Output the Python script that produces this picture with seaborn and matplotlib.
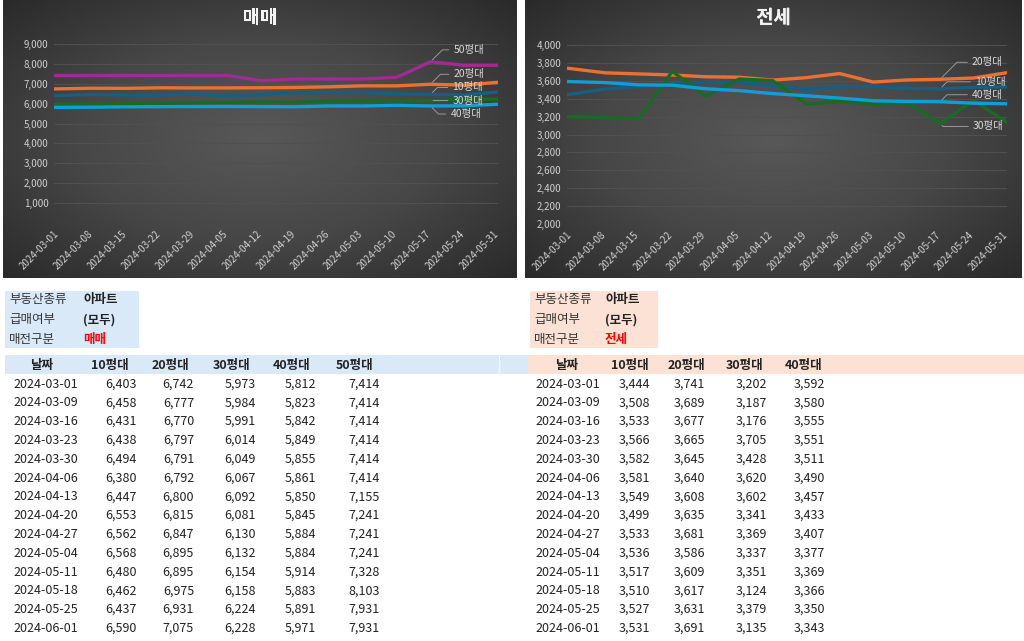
import numpy as np
import pandas as pd
import matplotlib
matplotlib.use('Agg')
import matplotlib.pyplot as plt
import matplotlib.patheffects as pe
from matplotlib.colors import LinearSegmentedColormap
from matplotlib.patches import Rectangle
from matplotlib.ticker import FuncFormatter, MultipleLocator
import seaborn as sns

dates = ['2024-03-01', '2024-03-09', '2024-03-16', '2024-03-23', '2024-03-30',
         '2024-04-06', '2024-04-13', '2024-04-20', '2024-04-27', '2024-05-04',
         '2024-05-11', '2024-05-18', '2024-05-25', '2024-06-01']

sale_10 = [6403, 6458, 6431, 6438, 6494, 6380, 6447, 6553, 6562, 6568, 6480, 6462, 6437, 6590]
sale_20 = [6742, 6777, 6770, 6797, 6791, 6792, 6800, 6815, 6847, 6895, 6895, 6975, 6931, 7075]
sale_30 = [5973, 5984, 5991, 6014, 6049, 6067, 6092, 6081, 6130, 6132, 6154, 6158, 6224, 6228]
sale_40 = [5812, 5823, 5842, 5849, 5855, 5861, 5850, 5845, 5884, 5884, 5914, 5883, 5891, 5971]
sale_50 = [7414, 7414, 7414, 7414, 7414, 7414, 7155, 7241, 7241, 7241, 7328, 8103, 7931, 7931]

jeonse_10 = [3444, 3508, 3533, 3566, 3582, 3581, 3549, 3499, 3533, 3536, 3517, 3510, 3527, 3531]
jeonse_20 = [3741, 3689, 3677, 3665, 3645, 3640, 3608, 3635, 3681, 3586, 3609, 3617, 3631, 3691]
jeonse_30 = [3202, 3187, 3176, 3705, 3428, 3620, 3602, 3341, 3369, 3337, 3351, 3124, 3379, 3135]
jeonse_40 = [3592, 3580, 3555, 3551, 3511, 3490, 3457, 3433, 3407, 3377, 3369, 3366, 3350, 3343]

sale_names = ['10평대', '20평대', '30평대', '40평대', '50평대']
jeonse_names = ['10평대', '20평대', '30평대', '40평대']

colors = {'10평대': '#156082', '20평대': '#E97132', '30평대': '#196B24',
          '40평대': '#0F9ED5', '50평대': '#A02B93'}

sale = pd.DataFrame(dict(zip(sale_names, [sale_10, sale_20, sale_30, sale_40, sale_50])))
sale['날짜'] = pd.to_datetime(dates)
jeonse = pd.DataFrame(dict(zip(jeonse_names, [jeonse_10, jeonse_20, jeonse_30, jeonse_40])))
jeonse['날짜'] = pd.to_datetime(dates)

sns.set_theme(style='white')
plt.rcParams['font.family'] = ['Noto Sans CJK KR', 'DejaVu Sans']

W, H = 1024, 641
fig = plt.figure(figsize=(W / 100, H / 100), dpi=100)


def px_rect(x0, y0, x1, y1):
    return [x0 / W, 1 - y1 / H, (x1 - x0) / W, (y1 - y0) / H]


# table layer underneath everything
tab = fig.add_axes([0, 0, 1, 1])
tab.set_xlim(0, W)
tab.set_ylim(H, 0)
tab.set_axis_off()

# radial background for the dark chart panels
yy, xx = np.mgrid[-1:1:300j, -1:1:500j]
rad = np.sqrt(xx ** 2 + yy ** 2) / np.sqrt(2)
bg_cmap = LinearSegmentedColormap.from_list('bg', ['#585858', '#474747', '#2a2a2a'])


def draw_chart(panel, plot, title, df, names, ylim, ystep, labels, blank_zero):
    bg = fig.add_axes(px_rect(*panel))
    bg.imshow(rad, cmap=bg_cmap, aspect='auto', extent=[0, 1, 0, 1])
    bg.set_axis_off()

    ax = fig.add_axes(px_rect(*plot))
    ax.patch.set_alpha(0)
    long = df.melt(id_vars='날짜', var_name='구분', value_name='값')
    sns.lineplot(data=long, x='날짜', y='값', hue='구분', hue_order=names,
                 palette=colors, linewidth=2.4, legend=False, ax=ax)
    ax.set_xlim(pd.Timestamp('2024-03-01'), pd.Timestamp('2024-06-01'))
    ax.set_ylim(*ylim)
    ax.yaxis.set_major_locator(MultipleLocator(ystep))
    ax.yaxis.set_major_formatter(FuncFormatter(
        lambda v, p: '' if (blank_zero and v == 0) else f'{v:,.0f}'))
    ticks = pd.date_range('2024-03-01', '2024-05-31', freq='7D')
    ax.set_xticks(ticks)
    ax.set_xticklabels([t.strftime('%Y-%m-%d') for t in ticks], rotation=45,
                       ha='right', rotation_mode='anchor')
    ax.tick_params(colors='#d0d0d0', labelsize=7, length=0, pad=4)
    ax.grid(axis='y', color='#505050', lw=0.8)
    ax.grid(axis='x', visible=False)
    for s in ax.spines.values():
        s.set_visible(False)
    ax.set_xlabel('')
    ax.set_ylabel('')

    x_at = pd.Timestamp('2024-05-18')
    for name, (dx, dy) in labels.items():
        val = df.loc[df['날짜'] == x_at, name].iloc[0]
        if dy == 0:
            cs = 'arc3'
        else:
            cs = 'angle,angleA=0,angleB=%d' % (45 if dy > 0 else -45)
        ax.annotate(name, xy=(x_at, val), xytext=(dx, dy), textcoords='offset pixels',
                    ha='left', va='center', fontsize=7.5, color='#d9d9d9',
                    arrowprops=dict(arrowstyle='-', color='#a6a6a6', lw=0.6,
                                    shrinkA=1, shrinkB=2, relpos=(0, 0.5),
                                    connectionstyle=cs))

    cx = (panel[0] + panel[2]) / 2
    fig.text(cx / W, 1 - 18 / H, title, ha='center', va='center', fontsize=13.5,
             fontweight='bold', color='#f2f2f2',
             path_effects=[pe.withSimplePatchShadow(offset=(1, -1), alpha=0.7),
                           pe.Normal()])


draw_chart((3, 0, 517, 278), (54, 44, 498, 223), '매매', sale, sale_names,
           (0, 9000), 1000,
           {'50평대': (23, 12), '20평대': (23, 10), '10평대': (22, 7),
            '30평대': (22, 0), '40평대': (20, -8)}, True)
draw_chart((525, 0, 1022, 278), (567, 45, 1007, 224), '전세', jeonse, jeonse_names,
           (2000, 4000), 200,
           {'20평대': (32, 17), '10평대': (35, 7), '40평대': (32, 7),
            '30평대': (33, -3)}, False)

# ---- tables ----
blue = '#dae9f8'
peach = '#fbe2d5'
txt = '#222222'
fs = 9

tab.add_patch(Rectangle((5, 291), 134, 57, color=blue, lw=0))
tab.add_patch(Rectangle((5, 355), 523, 19, color=blue, lw=0))
tab.plot([499, 499], [355, 374], color='white', lw=0.8)
tab.add_patch(Rectangle((530, 291), 128, 57, color=peach, lw=0))
tab.add_patch(Rectangle((528, 355), 496, 19, color=peach, lw=0))

info_keys = ['부동산종류', '급매여부', '매전구분']
info_y = [300, 320, 339]
for (x_lab, x_val, kind) in [(9, 83, '매매'), (534, 605, '전세')]:
    vals = ['아파트', '(모두)', kind]
    for k, v, y in zip(info_keys, vals, info_y):
        tab.text(x_lab, y, k, ha='left', va='center', fontsize=fs, color='#333333')
        tab.text(x_val, y, v, ha='left', va='center', fontsize=fs, fontweight='bold',
                 color='#ff0000' if v == kind else txt)

head_y = 365
row_y0, row_step = 384, 18.8


def draw_table(x_date_head, x_date, head_x, right_x, names, cols):
    tab.text(x_date_head, head_y, '날짜', ha='center', va='center', fontsize=fs,
             fontweight='bold', color=txt)
    for hx, n in zip(head_x, names):
        tab.text(hx, head_y, n, ha='center', va='center', fontsize=fs,
                 fontweight='bold', color=txt)
    for i, d in enumerate(dates):
        y = row_y0 + i * row_step
        tab.text(x_date, y, d, ha='left', va='center', fontsize=fs, color=txt)
        for xr, col in zip(right_x, cols):
            tab.text(xr, y, f'{col[i]:,}', ha='right', va='center', fontsize=fs,
                     color=txt)


draw_table(42, 13, [110, 170, 232, 292, 355], [137, 194, 256, 316, 380],
           sale_names, [sale_10, sale_20, sale_30, sale_40, sale_50])
draw_table(567, 535, [630, 686, 745, 804], [650, 705, 767, 825],
           jeonse_names, [jeonse_10, jeonse_20, jeonse_30, jeonse_40])

fig.savefig('out.png', dpi=100)
